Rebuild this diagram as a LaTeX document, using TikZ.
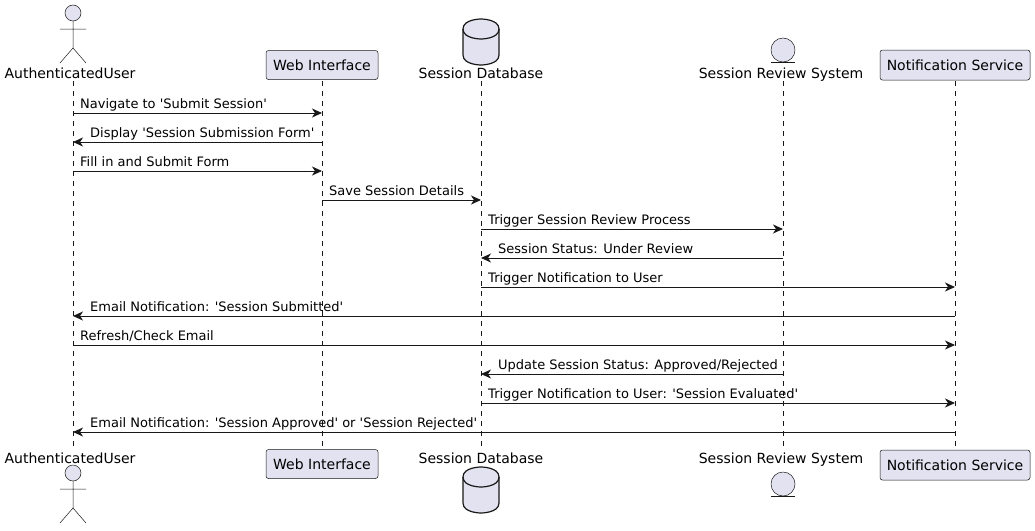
\documentclass[tikz,border=0pt]{standalone}
\usepackage{fontspec}
\setmainfont{DejaVu Sans}
\usetikzlibrary{calc,arrows.meta}
\definecolor{partfill}{HTML}{E2E2F0}
\definecolor{umlline}{HTML}{181818}
\newcommand\q{\textquotesingle}
\tikzset{
	part/.style={draw=umlline, fill=partfill, rounded corners=2.5pt, line width=0.5pt, inner sep=0pt, font=\fontsize{14}{16}\selectfont},
	plabel/.style={inner sep=0pt, anchor=base, font=\fontsize{14}{16}\selectfont},
	lifeline/.style={draw=umlline, line width=0.5pt, dash pattern=on 5pt off 5pt},
	figure/.style={draw=umlline, line width=0.5pt, fill=partfill},
	msg/.style={draw=umlline, line width=0.9pt, -{Stealth[length=10pt,width=9pt,inset=3pt]}},
	msgtext/.style={inner sep=0pt, anchor=base west, font=\fontsize{13}{15}\selectfont},
}
\newcommand\msgR[4]{\draw[msg] ($(#1)+(0,#3)$) -- ($(#2)+(0,#3)$);
	\node[msgtext] at ($(#1)+(7,#3-5)$) {#4};}
\newcommand\msgL[4]{\draw[msg] ($(#1)+(0,#3)$) -- ($(#2)+(0,#3)$);
	\node[msgtext] at ($(#2)+(17,#3-5)$) {#4};}
\newcommand\dbshape[2]{\draw[figure, line width=1.2pt] (#1-18,#2+10) .. controls (#1-18,#2) and (#1,#2) .. (#1,#2)
	.. controls (#1,#2) and (#1+18,#2) .. (#1+18,#2+10) -- (#1+18,#2+36)
	.. controls (#1+18,#2+46) and (#1,#2+46) .. (#1,#2+46)
	.. controls (#1,#2+46) and (#1-18,#2+46) .. (#1-18,#2+36) -- cycle;
	\draw[umlline, line width=1.2pt] (#1-18,#2+10) .. controls (#1-18,#2+20) and (#1,#2+20) .. (#1,#2+20)
	.. controls (#1,#2+20) and (#1+18,#2+20) .. (#1+18,#2+10);}

\begin{document}
\begin{tikzpicture}[x=1pt, y=-1pt]
	%%%%% START %%%%%
	\useasboundingbox (0,0) rectangle (1035,530);
	
	\coordinate (user) at (73,0);
	\coordinate (web) at (322,0);
	\coordinate (db) at (481,0);
	\coordinate (review) at (783,0);
	\coordinate (notif) at (955,0);
	
	% lifelines
	\foreach \p in {user,web,db,review,notif}
		\draw[lifeline] ($(\p)+(0,81)$) -- ($(\p)+(0,449)$);
	
	% actor, top and bottom
	\draw[figure] (73,13) circle (8);
	\draw[umlline, line width=0.5pt] (73,21) -- (73,48) (60,29) -- (86,29) (60,63) -- (73,48) -- (86,63);
	\node[plabel] (usertop) at (70,78) {AuthenticatedUser};
	\node[plabel] (userbot) at (70,463) {AuthenticatedUser};
	\draw[figure] (73,473) circle (8);
	\draw[umlline, line width=0.5pt] (73,481) -- (73,508) (60,489) -- (86,489) (60,523) -- (73,508) -- (86,523);
	
	% boxes
	\node[part, minimum width=112pt, minimum height=29pt] (webtop) at (322,65) {Web Interface};
	\node[part, minimum width=112pt, minimum height=29pt] (webbot) at (322,464) {Web Interface};
	\node[part, minimum width=150pt, minimum height=30pt] (notiftop) at (955,65) {Notification Service};
	\node[part, minimum width=150pt, minimum height=30pt] (notifbot) at (955,465) {Notification Service};
	
	% database
	\dbshape{481}{19}
	\node[plabel] (dbtop) at (481,78) {Session Database};
	\node[plabel] (dbbot) at (481,463) {Session Database};
	\dbshape{481}{467}
	
	% entity
	\draw[figure] (783,50) circle (12);
	\draw[umlline, line width=0.5pt] (771,62) -- (795,62);
	\node[plabel] (reviewtop) at (781,78) {Session Review System};
	\node[plabel] (reviewbot) at (781,463) {Session Review System};
	\draw[figure] (783,484) circle (12);
	\draw[umlline, line width=0.5pt] (771,496) -- (795,496);
	
	% messages
	\msgR{user}{web}{113}{Navigate to \q Submit Session\q}
	\msgL{web}{user}{142}{Display \q Session Submission Form\q}
	\msgR{user}{web}{171}{Fill in and Submit Form}
	\msgR{web}{db}{200}{Save Session Details}
	\msgR{db}{review}{229}{Trigger Session Review Process}
	\msgL{review}{db}{258}{Session Status: Under Review}
	\msgR{db}{notif}{287}{Trigger Notification to User}
	\msgL{notif}{user}{316}{Email Notification: \q Session Submitted\q}
	\msgR{user}{notif}{345}{Refresh/Check Email}
	\msgL{review}{db}{374}{Update Session Status: Approved/Rejected}
	\msgR{db}{notif}{403}{Trigger Notification to User: \q Session Evaluated\q}
	\msgL{notif}{user}{432}{Email Notification: \q Session Approved\q{} or \q Session Rejected\q}
	
	%%%%% END %%%%%
\end{tikzpicture}
\end{document}
